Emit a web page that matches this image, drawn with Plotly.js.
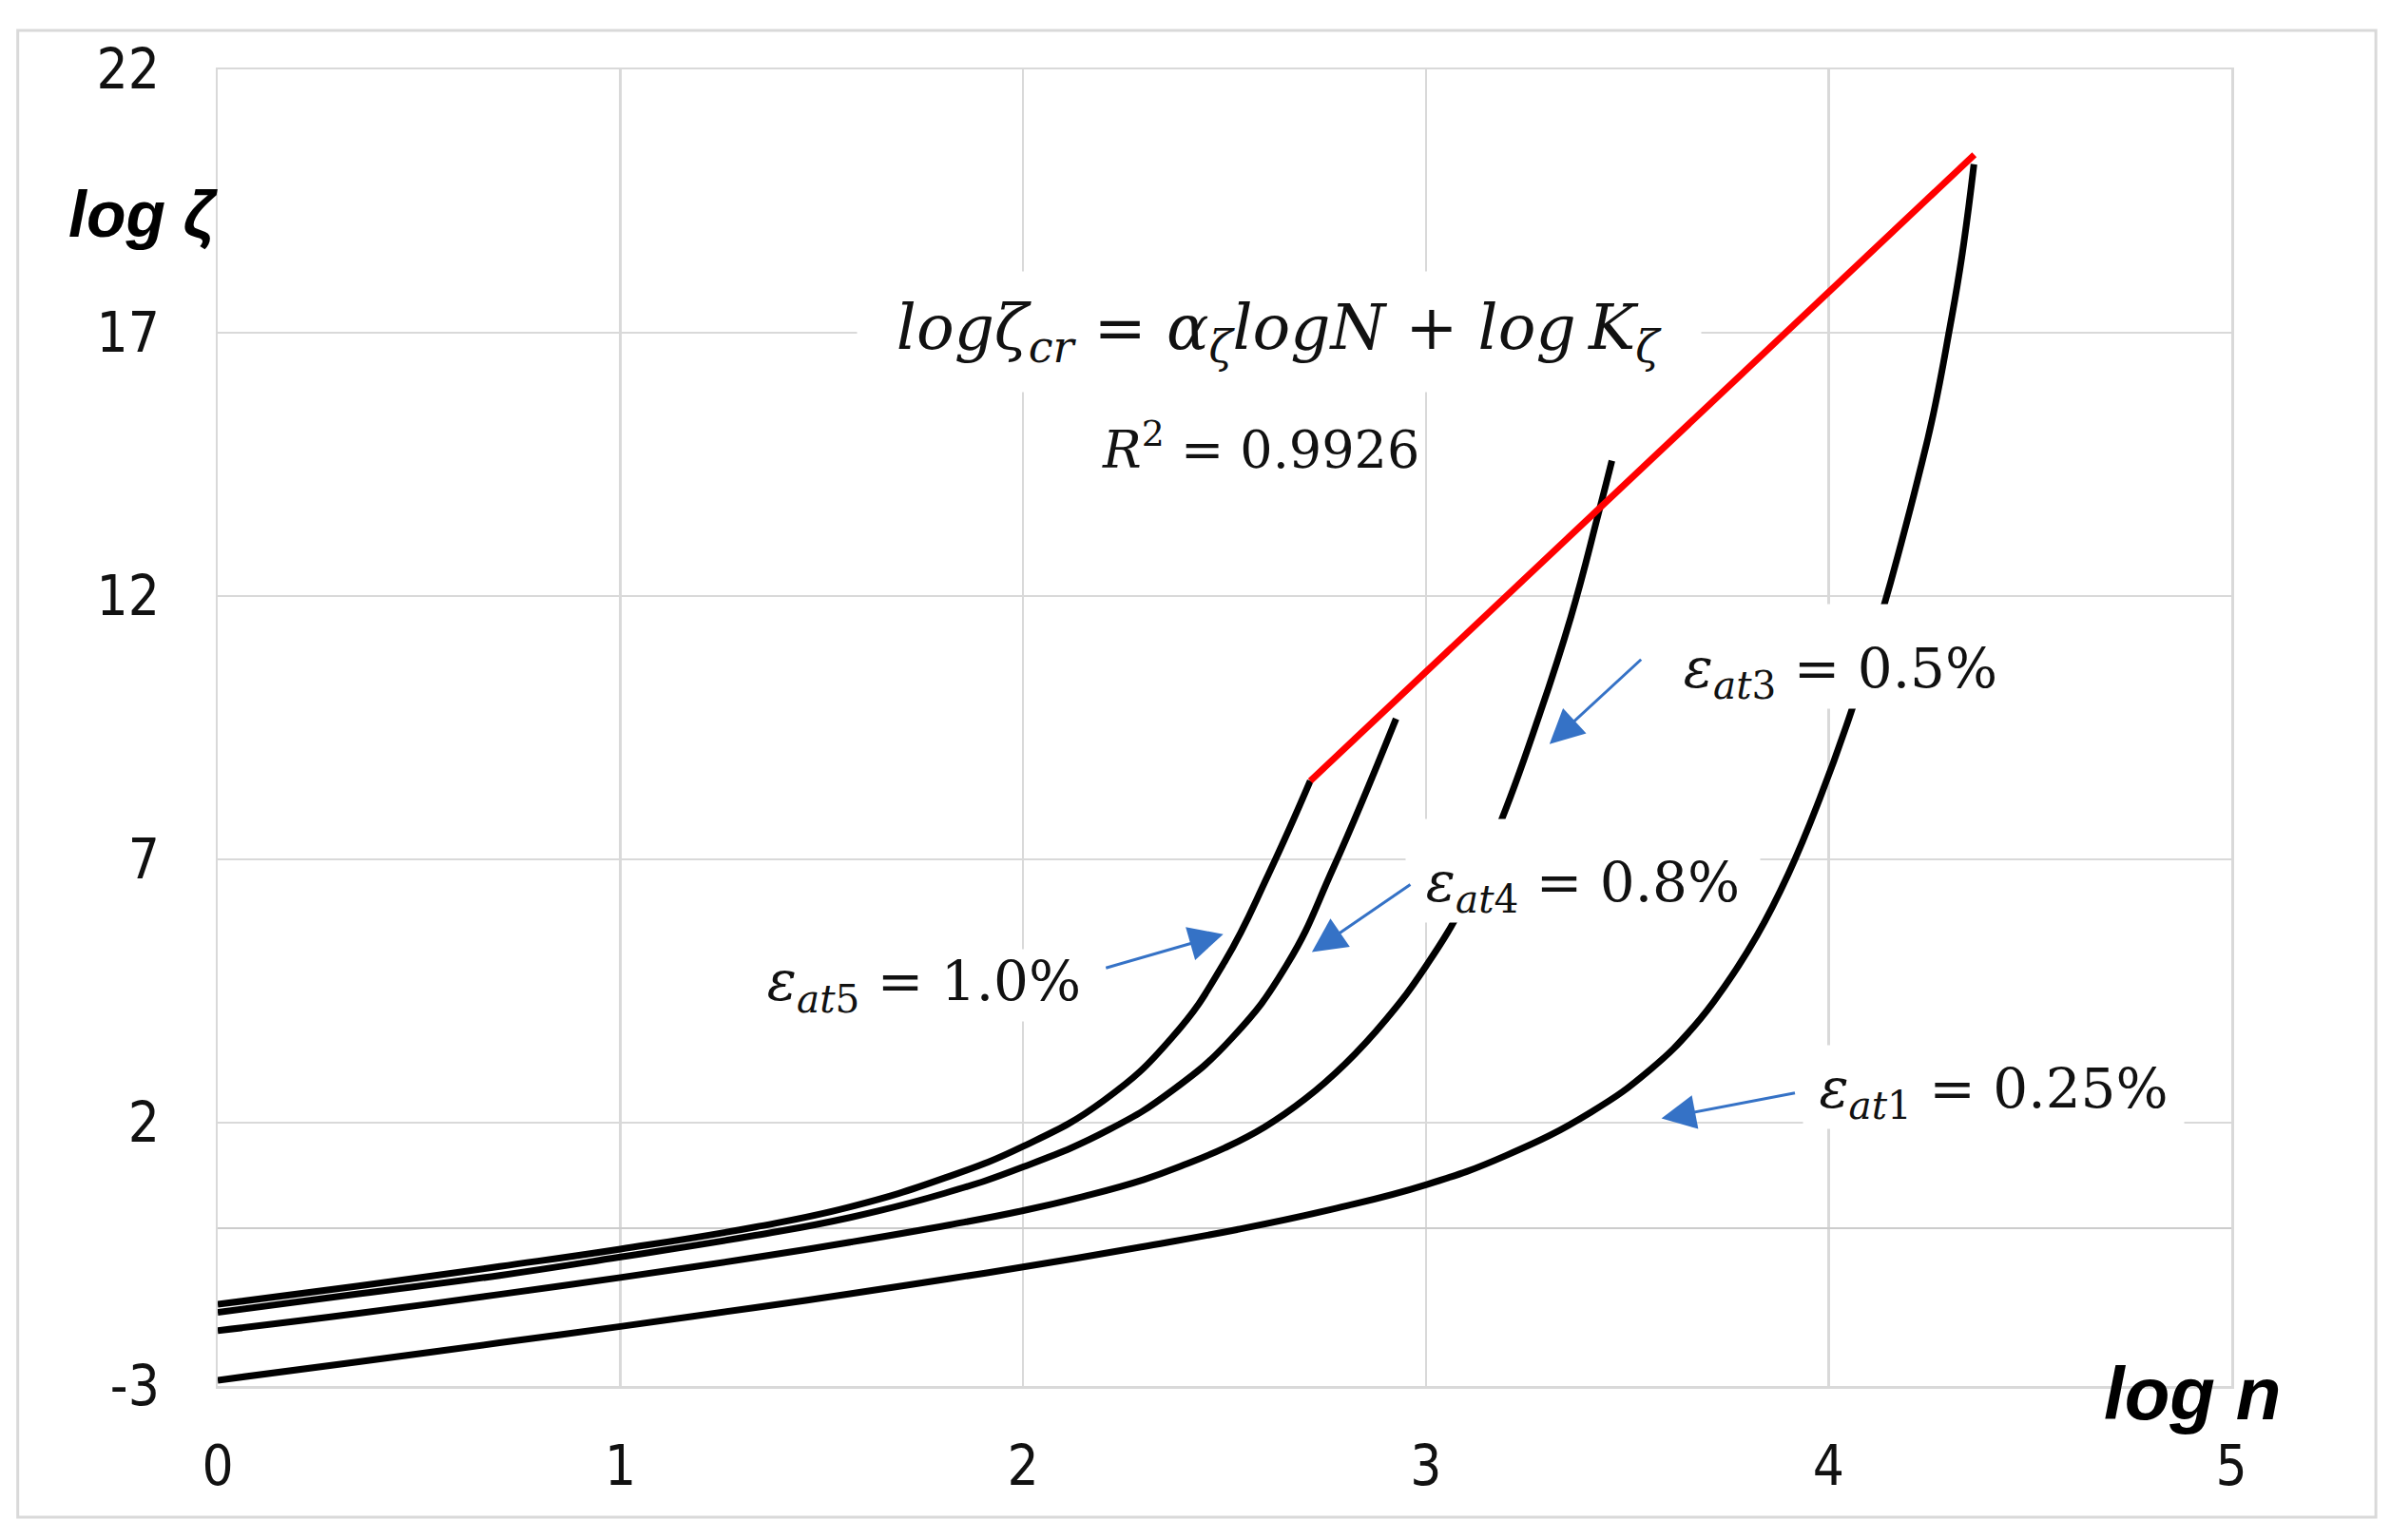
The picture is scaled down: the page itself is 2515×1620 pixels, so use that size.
<!DOCTYPE html>
<html>
<head>
<meta charset="utf-8">
<script src="https://cdn.plot.ly/plotly-3.0.1.min.js"></script>
<style>
  html, body { margin: 0; padding: 0; background: #fff; }
</style>
</head>
<body>
<div id="chart"></div>
<script>
// curves: log n (x) against log zeta (y)
var x_at1 = [0, 0.35, 0.7, 1.0, 1.335, 1.57, 1.818, 2.0, 2.293, 2.531, 2.769, 3.0, 3.2, 3.41, 3.556, 3.665, 3.743, 3.822, 3.9, 3.978, 4.056, 4.135, 4.182, 4.221, 4.26, 4.3, 4.331, 4.361];
var y_at1 = [-2.89, -2.54, -2.18, -1.87, -1.51, -1.25, -0.96, -0.74, -0.36, -0.03, 0.36, 0.82, 1.38, 2.2, 3.0, 3.82, 4.6, 5.55, 6.72, 8.15, 9.8, 11.75, 13.05, 14.2, 15.45, 17.05, 18.45, 20.2];

var x_at3 = [0, 0.35, 0.7, 1.0, 1.335, 1.57, 1.818, 2.0, 2.15, 2.3, 2.4, 2.5, 2.6, 2.7, 2.8, 2.9, 3.0, 3.1, 3.18, 3.28, 3.36, 3.428, 3.462];
var y_at3 = [-1.95, -1.62, -1.26, -0.94, -0.56, -0.27, 0.06, 0.33, 0.6, 0.92, 1.2, 1.52, 1.92, 2.45, 3.12, 3.95, 4.97, 6.25, 7.6, 9.7, 11.6, 13.55, 14.57];

var x_at4 = [0, 0.35, 0.7, 1.0, 1.335, 1.57, 1.805, 2.0, 2.214, 2.372, 2.52, 2.655, 2.771, 2.926];
var y_at4 = [-1.6, -1.25, -0.9, -0.55, -0.14, 0.2, 0.66, 1.16, 1.87, 2.62, 3.62, 5.0, 6.85, 9.67];

var x_at5 = [0, 0.35, 0.7, 1.0, 1.335, 1.57, 1.805, 2.0, 2.2, 2.37, 2.5, 2.61, 2.713];
var y_at5 = [-1.45, -1.1, -0.73, -0.4, 0.02, 0.4, 0.95, 1.55, 2.42, 3.62, 5.05, 6.73, 8.49];

// fitted critical line
var x_cr = [2.713, 4.362];
var y_cr = [8.49, 20.38];

var yTicks = [-3, 2, 7, 12, 17, 22];
var yTickText = ['-3', '2', '7', '12', '17', '22'];

var tickFont = 'Liberation Sans Narrow, DejaVu Sans Condensed, Arial, sans-serif';
var mathFont = 'DejaVu Serif, Liberation Serif, serif';
var gridCol = '#d9d9d9';
var arrowCol = '#3572c6';

function curve(x, y, color) {
    return {
        x: x, y: y, type: 'scatter', mode: 'lines',
        line: { color: color, width: 7, shape: 'spline', smoothing: 1.3 },
        hoverinfo: 'skip'
    };
}

var data = [
    curve(x_at1, y_at1, '#000'),
    curve(x_at3, y_at3, '#000'),
    curve(x_at4, y_at4, '#000'),
    curve(x_at5, y_at5, '#000'),
    { x: x_cr, y: y_cr, type: 'scatter', mode: 'lines',
      line: { color: '#ff0000', width: 7 }, hoverinfo: 'skip' }
];

// white label boxes (they hide curves and grid like the original text boxes)
function label(text, x, y, w, h, valign) {
    return {
        x: x, y: y, xref: 'x', yref: 'y', text: text, showarrow: false,
        width: w, height: h, valign: valign || 'middle', align: 'center',
        bgcolor: '#fff', borderpad: 0,
        font: { family: mathFont, size: 58, color: '#111' }
    };
}

function arrow(xTip, yTip, xTail, yTail) {
    return {
        x: xTip, y: yTip, ax: xTail, ay: yTail, xref: 'x', yref: 'y',
        axref: 'x', ayref: 'y', text: '', showarrow: true,
        arrowhead: 2, arrowsize: 2.4, arrowwidth: 3, arrowcolor: arrowCol, standoff: 0
    };
}

var annotations = [
    {
        x: 2.636, y: 17.01, xref: 'x', yref: 'y', showarrow: false,
        width: 887, height: 126, bgcolor: '#fff', borderpad: 0,
        text: '<i>logζ</i><sub><i>cr</i></sub> = <i>α</i><sub><i>ζ</i></sub><i>logN</i> + <i>log\u2009K</i><sub><i>ζ</i></sub>',
        font: { family: mathFont, size: 66, color: '#111' }
    },
    {
        x: 2.59, y: 14.84, xref: 'x', yref: 'y', showarrow: false,
        text: '<i>R</i><sup>2</sup> = 0.9926',
        font: { family: mathFont, size: 54, color: '#111' }
    },
    label('<i>ε</i><sub><i>at</i>3</sub> = 0.5%', 4.03, 10.86, 360, 109, 'bottom'),
    label('<i>ε</i><sub><i>at</i>4</sub> = 0.8%', 3.39, 6.79, 372, 108, 'bottom'),
    label('<i>ε</i><sub><i>at</i>5</sub> = 1.0%', 1.755, 4.6, 370, 75, 'middle'),
    label('<i>ε</i><sub><i>at</i>1</sub> = 0.25%', 4.41, 2.686, 400, 87, 'bottom'),
    arrow(3.307, 9.19, 3.538, 10.82),
    arrow(2.717, 5.24, 2.965, 6.54),
    arrow(2.497, 5.58, 2.202, 4.93),
    arrow(3.585, 2.08, 3.92, 2.57),
    {
        x: -0.075, y: 0.89, xref: 'paper', yref: 'paper', xanchor: 'left', yanchor: 'middle',
        showarrow: false, text: '<b><i>log ζ</i></b>',
        font: { family: 'Liberation Sans, Arial, sans-serif', size: 68, color: '#000' }
    },
    {
        x: 0.936, y: -0.006, xref: 'paper', yref: 'paper', xanchor: 'left', yanchor: 'middle',
        showarrow: false, text: '<b><i>log n</i></b>',
        font: { family: 'Liberation Sans, Arial, sans-serif', size: 78, color: '#000' }
    }
];

var layout = {
    width: 2515, height: 1620,
    margin: { l: 229, r: 168, t: 73, b: 162 },
    paper_bgcolor: '#fff', plot_bgcolor: '#fff',
    showlegend: false,
    xaxis: {
        range: [0, 5], dtick: 1, tick0: 0, automargin: false,
        showgrid: true, gridcolor: gridCol, gridwidth: 2.5,
        zeroline: false, showline: true, mirror: true, linecolor: gridCol, linewidth: 2.5,
        ticks: '', ticklabelstandoff: 32,
        tickfont: { family: tickFont, size: 58, color: '#111' }
    },
    yaxis: {
        range: [-3, 22], tickvals: yTicks, ticktext: yTickText, automargin: false,
        showgrid: true, gridcolor: gridCol, gridwidth: 2.5,
        zeroline: true, zerolinecolor: '#cccccc', zerolinewidth: 2.5,
        showline: true, mirror: true, linecolor: gridCol, linewidth: 2.5,
        ticks: '', ticklabelstandoff: 47,
        tickfont: { family: tickFont, size: 58, color: '#111' }
    },
    shapes: [{
        type: 'rect', xref: 'paper', yref: 'paper', layer: 'below',
        x0: -0.0993, x1: 1.0718, y0: -0.0996, y1: 1.0296,
        line: { color: '#d9d9d9', width: 3 }, fillcolor: 'rgba(0,0,0,0)'
    }],
    annotations: annotations
};

Plotly.newPlot('chart', data, layout, { staticPlot: true, displayModeBar: false });
</script>
</body>
</html>
